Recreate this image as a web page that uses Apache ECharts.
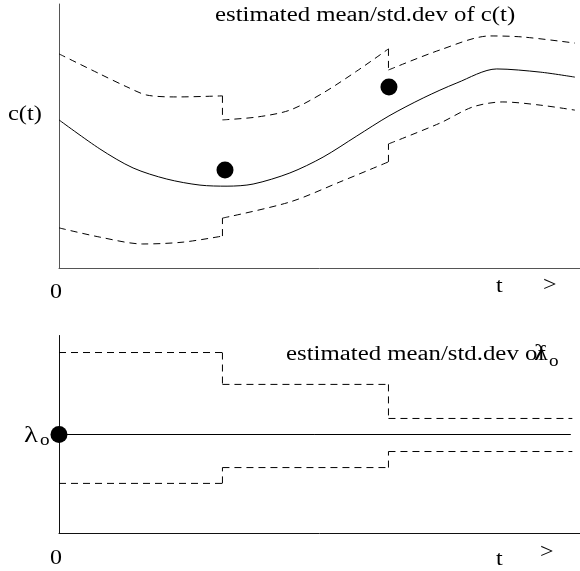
<!DOCTYPE html>
<html>
<head>
<meta charset="utf-8">
<script src="https://cdn.jsdelivr.net/npm/echarts@6/dist/echarts.min.js"></script>
<style>
  html, body { margin: 0; padding: 0; background: #fff; }
  #chart { width: 580px; height: 571px; }
</style>
</head>
<body>
<div id="chart"></div>
<script>
// ---- c(t): estimated mean and ±std.dev envelope ----
const cMean = [[0, 5.61], [0.8, 4.51], [1.45, 3.79], [2.11, 3.37], [2.76, 3.14], [3.29, 3.10],
  [3.8, 3.18], [4.52, 3.60], [5.17, 4.20], [5.83, 5.00], [6.46, 5.76], [7.13, 6.44],
  [7.79, 7.01], [8.57, 7.54], [9.42, 7.42], [10.1, 7.23]];
// upper envelope, one piece between consecutive measurement updates
const cUpper1 = [[0, 8.11], [0.8, 7.35], [1.33, 6.86], [1.72, 6.55], [2.31, 6.48], [3.2, 6.52]];
const cUpper2 = [[3.2, 5.61], [3.88, 5.72], [4.52, 5.98], [5.17, 6.63], [5.83, 7.46], [6.45, 8.30]];
const cUpper3 = [[6.45, 7.50], [7.46, 8.26], [8.44, 8.79], [9.08, 8.75], [10.1, 8.52]];
// lower envelope
const cLower1 = [[0, 1.52], [0.8, 1.17], [1.64, 0.91], [2.43, 0.98], [3.2, 1.21]];
const cLower2 = [[3.2, 1.89], [4.52, 2.50], [5.5, 3.26], [6.45, 4.02]];
const cLower3 = [[6.45, 4.70], [7.46, 5.49], [8.1, 6.10], [8.69, 6.29], [9.42, 6.17], [10.1, 5.98]];
// measurements of c(t)
const cMeasured = [[3.25, 3.71], [6.46, 6.86]];

// ---- lambda_o: estimated mean and ±std.dev (piecewise constant) ----
const lamBreaks = [0, 3.2, 6.45, 10.05];
const lamMean = [[0, 5.0], [10.02, 5.0]];
const lamUpperLevels = [9.14, 7.53, 5.81];
const lamLowerLevels = [2.53, 3.33, 4.14];
const lamInitial = [[0, 5.0]];

const SERIF = '"Liberation Serif", "Times New Roman", serif';
const chart = echarts.init(document.getElementById('chart'), null, { renderer: 'canvas' });

// piecewise-constant level list -> list of horizontal pieces
function stepPieces(levels) {
  return levels.map((v, i) => [[lamBreaks[i], v], [lamBreaks[i + 1], v]]);
}

// solid / dashed line series on a given grid
function curve(data, idx, dashed, smooth) {
  return {
    type: 'line', data: data, xAxisIndex: idx, yAxisIndex: idx,
    smooth: smooth ? 0.3 : false, showSymbol: false, symbol: 'none',
    silent: true, animation: false, clip: false,
    lineStyle: { color: '#000', width: 1, type: dashed ? [7, 5] : 'solid' }
  };
}

// dashed envelope made of pieces joined by vertical jumps at the updates
function envelope(pieces, idx, smooth) {
  const out = [];
  pieces.forEach((p, i) => {
    out.push(curve(p, idx, true, smooth));
    if (i < pieces.length - 1) {
      const a = p[p.length - 1], b = pieces[i + 1][0];
      out.push(curve([[a[0], a[1]], [b[0], b[1]]], idx, true, false));
    }
  });
  return out;
}

function dots(data, idx) {
  return {
    type: 'scatter', data: data, xAxisIndex: idx, yAxisIndex: idx,
    symbol: 'circle', symbolSize: 17, clip: false, silent: true, animation: false,
    itemStyle: { color: '#000', opacity: 1 }, z: 5
  };
}

function axisPair(idx, color) {
  return {
    x: {
      type: 'value', gridIndex: idx, min: 0, max: 10.2,
      axisLine: { show: true, onZero: false, lineStyle: { color: color, width: 1 } },
      axisTick: { show: false }, axisLabel: { show: false }, splitLine: { show: false }
    },
    y: {
      type: 'value', gridIndex: idx, min: 0, max: 10,
      axisLine: { show: true, onZero: false, lineStyle: { color: color, width: 1 } },
      axisTick: { show: false }, axisLabel: { show: false }, splitLine: { show: false }
    }
  };
}
const upperAxes = axisPair(0, '#555');
const lowerAxes = axisPair(1, '#111');

function label(text, x, y, size, sx) {
  return {
    type: 'text', x: x, y: y, scaleX: sx || 1.2, silent: true, z: 10,
    style: {
      text: text, font: size + 'px ' + SERIF, fill: '#000',
      align: 'left', verticalAlign: 'middle'
    }
  };
}

const series = [].concat(
  [curve(cMean, 0, false, true)],
  envelope([cUpper1, cUpper2, cUpper3], 0, true),
  envelope([cLower1, cLower2, cLower3], 0, true),
  [dots(cMeasured, 0)],
  [curve(lamMean, 1, false, false)],
  envelope(stepPieces(lamUpperLevels), 1, false),
  envelope(stepPieces(lamLowerLevels), 1, false),
  [dots(lamInitial, 1)]
);

chart.setOption({
  animation: false,
  backgroundColor: '#fff',
  grid: [
    { left: 59, right: 0, top: 4, height: 264 },
    { left: 59, right: 0, top: 335.5, height: 198 }
  ],
  xAxis: [upperAxes.x, lowerAxes.x],
  yAxis: [upperAxes.y, lowerAxes.y],
  series: series,
  graphic: [
    label('estimated mean/std.dev of c(t)', 215, 16, 20, 1.24),
    label('c(t)', 8, 115, 20, 1.22),
    label('0', 50, 293, 20, 1.2),
    label('t', 496, 287, 20, 1.2),
    label('>', 543, 286, 20, 1.2),
    label('estimated mean/std.dev of', 286, 355, 20, 1.24),
    label('\u03bb', 534, 354, 24, 1.2),
    label('o', 549, 362, 16, 1.2),
    label('\u03bb', 24, 436, 24, 1.2),
    label('o', 40, 441, 16, 1.2),
    label('0', 50, 559, 20, 1.2),
    label('t', 496, 560, 20, 1.2),
    label('>', 540, 553, 20, 1.2)
  ]
});
</script>
</body>
</html>
